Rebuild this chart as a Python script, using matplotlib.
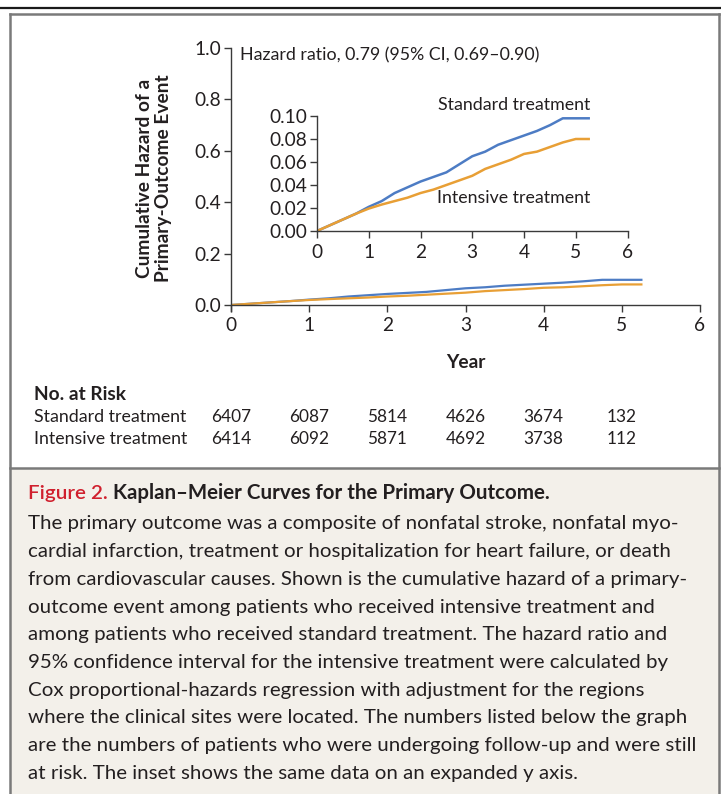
import matplotlib
matplotlib.use("Agg")
import matplotlib.pyplot as plt
from matplotlib.patches import Rectangle
from matplotlib.lines import Line2D

plt.rcParams['font.family'] = ['Lato', 'DejaVu Sans']

# ---------------- data ----------------
years = [0, 0.25, 0.5, 0.75, 1.0, 1.25, 1.5, 1.75, 2.0, 2.25, 2.5, 2.75,
         3.0, 3.25, 3.5, 3.75, 4.0, 4.25, 4.5, 4.75, 5.0, 5.25]
standard = [0, 0.005, 0.010, 0.015, 0.021, 0.026, 0.033, 0.038, 0.043, 0.047,
            0.051, 0.058, 0.065, 0.069, 0.075, 0.079, 0.083, 0.087, 0.092,
            0.098, 0.098, 0.098]
intensive = [0, 0.005, 0.010, 0.015, 0.0195, 0.023, 0.026, 0.029, 0.033, 0.036,
             0.040, 0.044, 0.048, 0.054, 0.058, 0.062, 0.067, 0.069, 0.073,
             0.077, 0.080, 0.080]
risk_years = [0, 1, 2, 3, 4, 5]
risk_standard = [6407, 6087, 5814, 4626, 3674, 132]
risk_intensive = [6414, 6092, 5871, 4692, 3738, 112]
main_yticks = [0.0, 0.2, 0.4, 0.6, 0.8, 1.0]
inset_yticks = [0.00, 0.02, 0.04, 0.06, 0.08, 0.10]
xticks = [0, 1, 2, 3, 4, 5, 6]

BLUE = '#4d7cc4'
ORANGE = '#e89f35'
TXT = '#231f20'
AX = '#3a3a3a'

W, H = 721, 794
fig = plt.figure(figsize=(W / 100, H / 100), dpi=100)
renderer = fig.canvas.get_renderer()


def fx(px):
    return px / W


def fy(py):
    return 1 - py / H


def fit(t, target_px):
    """Scale a text's font size so that it spans target_px pixels."""
    w = t.get_window_extent(renderer=renderer).width
    t.set_fontsize(t.get_fontsize() * target_px / w)
    return t.get_fontsize()


# ---------------- frame ----------------
fig.patches.append(Rectangle((fx(10), fy(800)), fx(719) - fx(10), fy(468) - fy(800),
                             transform=fig.transFigure, facecolor='#f3f0ea',
                             edgecolor='none', zorder=0))
fig.lines.append(Line2D([0, 1], [fy(8), fy(8)], transform=fig.transFigure,
                        color='#1a1a1a', lw=1.6))
for xs, ys in [([10, 719], [14, 14]), ([10, 10], [14, 800]), ([719, 719], [14, 800]),
               ([10, 719], [468, 468])]:
    fig.lines.append(Line2D([fx(v) for v in xs], [fy(v) for v in ys],
                            transform=fig.transFigure, color='#7a7a7a', lw=1.8))

# measure base font size from the hazard-ratio text width
probe = fig.text(0, 0, 'Hazard ratio, 0.79 (95% CI, 0.69\u20130.90)', fontsize=12)
FS = fit(probe, 297)
probe.remove()
TFS = FS * 1.08


def style_axes(ax, fs):
    for s in ['top', 'right']:
        ax.spines[s].set_visible(False)
    for s in ['left', 'bottom']:
        ax.spines[s].set_color(AX)
        ax.spines[s].set_linewidth(1.0)
    ax.tick_params(direction='out', length=5, width=1.0, color=AX,
                   labelsize=fs, labelcolor=TXT, pad=2)
    ax.tick_params(axis='x', pad=4)
    ax.patch.set_alpha(0)


# ---------------- main axes ----------------
ax = fig.add_axes([fx(231), fy(305), fx(700) - fx(231), fy(48) - fy(305)])
ax.plot(years, standard, color=BLUE, lw=1.6)
ax.plot(years, intensive, color=ORANGE, lw=1.6)
ax.set_xlim(0, 6)
ax.set_ylim(0, 1.0)
ax.set_xticks(xticks)
ax.set_yticks(main_yticks)
ax.set_yticklabels([f'{v:.1f}' for v in main_yticks])
style_axes(ax, TFS)
ax.spines['left'].set_bounds(-0.025, 1.0)
ax.text(0.115, 0.973, 'Hazard ratio, 0.79 (95% CI, 0.69\u20130.90)', fontsize=FS,
        color=TXT, va='center', ha='left')
ax.set_xlabel('Year', fontsize=FS + 1, fontweight='bold', color=TXT, labelpad=14)

fig.text(fx(154), fy(178), 'Cumulative Hazard of a\nPrimary-Outcome Event', rotation=90,
         fontsize=FS + 1, fontweight='bold', color=TXT, ha='center', va='center',
         linespacing=1.15)

# ---------------- inset ----------------
ins = fig.add_axes([fx(317), fy(231), fx(627.5) - fx(317), fy(116) - fy(231)])
ins.plot(years, standard, color=BLUE, lw=1.8)
ins.plot(years, intensive, color=ORANGE, lw=1.8)
ins.set_xlim(0, 6)
ins.set_ylim(0, 0.10)
ins.set_xticks(xticks)
ins.set_yticks(inset_yticks)
ins.set_yticklabels([f'{v:.2f}' for v in inset_yticks])
style_axes(ins, TFS)
ins.text(5.28, 0.110, 'Standard treatment', fontsize=FS, color=TXT,
         ha='right', va='center')
ins.text(5.28, 0.0287, 'Intensive treatment', fontsize=FS, color=TXT,
         ha='right', va='center')

# ---------------- number at risk ----------------
fig.text(fx(34), fy(395), 'No. at Risk', fontsize=FS + 1, fontweight='bold',
         color=TXT, va='center')
for label, vals, py in [('Standard treatment', risk_standard, 417),
                        ('Intensive treatment', risk_intensive, 439)]:
    fig.text(fx(34), fy(py), label, fontsize=FS, color=TXT, va='center')
    for yr, v in zip(risk_years, vals):
        xd = ax.transData.transform((yr, 0))[0]
        fig.text(xd / W, fy(py), str(v), fontsize=FS - 0.3, color=TXT,
                 va='center', ha='center')

# ---------------- caption ----------------
caption = [
    "The primary outcome was a composite of nonfatal stroke, nonfatal myo-",
    "cardial infarction, treatment or hospitalization for heart failure, or death",
    "from cardiovascular causes. Shown is the cumulative hazard of a primary-",
    "outcome event among patients who received intensive treatment and",
    "among patients who received standard treatment. The hazard ratio and",
    "95% confidence interval for the intensive treatment were calculated by",
    "Cox proportional-hazards regression with adjustment for the regions",
    "where the clinical sites were located. The numbers listed below the graph",
    "are the numbers of patients who were undergoing follow-up and were still",
    "at risk. The inset shows the same data on an expanded y axis.",
]
probe = fig.text(0, 0, caption[0], fontsize=14)
CFS = fit(probe, 652)
probe.remove()

t1 = fig.text(fx(28), fy(493), 'Figure 2. ', fontsize=CFS, color='#d0202e',
              va='center', ha='left', fontweight='semibold')
bb = t1.get_window_extent(renderer=renderer)
fig.text(bb.x1 / W, fy(493), 'Kaplan\u2013Meier Curves for the Primary Outcome.',
         fontsize=CFS, fontweight='bold', color=TXT, va='center', ha='left')

for i, line in enumerate(caption):
    fig.text(fx(28), fy(524 + i * 27.7), line, fontsize=CFS, color=TXT,
             va='center', ha='left')

fig.savefig('out.png', dpi=100)
